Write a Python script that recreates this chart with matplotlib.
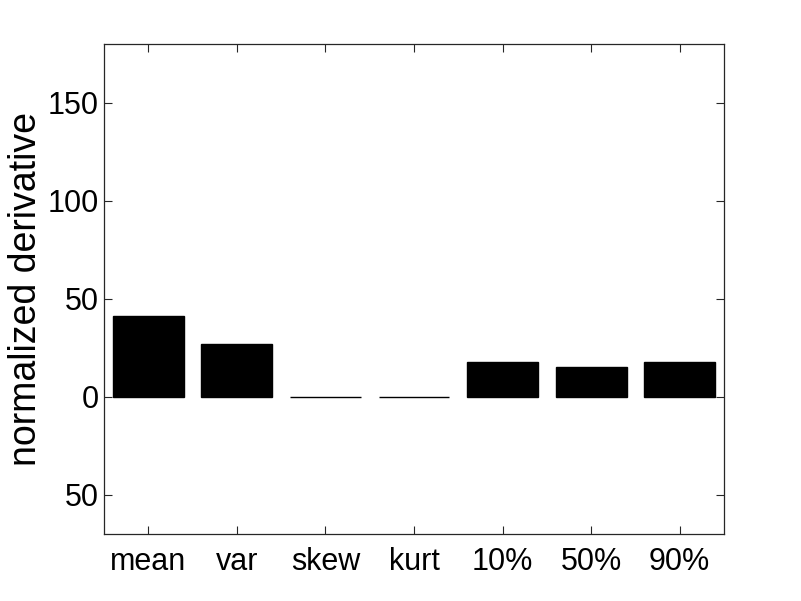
import matplotlib
matplotlib.use("Agg")
import matplotlib.pyplot as plt
from matplotlib.ticker import FixedLocator, FixedFormatter

categories = ["mean", "var", "skew", "kurt", "10%", "50%", "90%"]
values = [41.2, 27.0, 0.0, 0.0, 17.8, 15.3, 17.8]
yticks = [-50, 0, 50, 100, 150]
ytick_labels = ["50", "0", "50", "100", "150"]

plt.rcParams["font.family"] = ["Liberation Sans", "DejaVu Sans"]

fig = plt.figure(figsize=(8.01, 6.01), dpi=100)
ax = fig.add_axes([104 / 801, 1 - 534 / 601, 620 / 801, 490 / 601])

x = range(1, len(categories) + 1)
ax.bar(x, values, width=0.8, color="black", edgecolor="black", linewidth=1.0)

ax.set_xlim(0.5, 7.5)
ax.set_ylim(-70, 180)
ax.set_xticks(list(x))
ax.set_xticklabels(categories)
ax.yaxis.set_major_locator(FixedLocator(yticks))
ax.yaxis.set_major_formatter(FixedFormatter(ytick_labels))
ax.set_ylabel("normalized derivative", fontsize=27)
ax.yaxis.set_label_coords(-0.096, 0.5)

ax.tick_params(direction="in", length=6, width=0.8, top=True, right=True,
               labelsize=22, colors="#262626", labelcolor="black")
ax.tick_params(axis="y", pad=4)
ax.tick_params(axis="x", pad=9)
for s in ax.spines.values():
    s.set_color("#262626")
    s.set_linewidth(0.9)

fig.savefig("out.png", dpi=100)
